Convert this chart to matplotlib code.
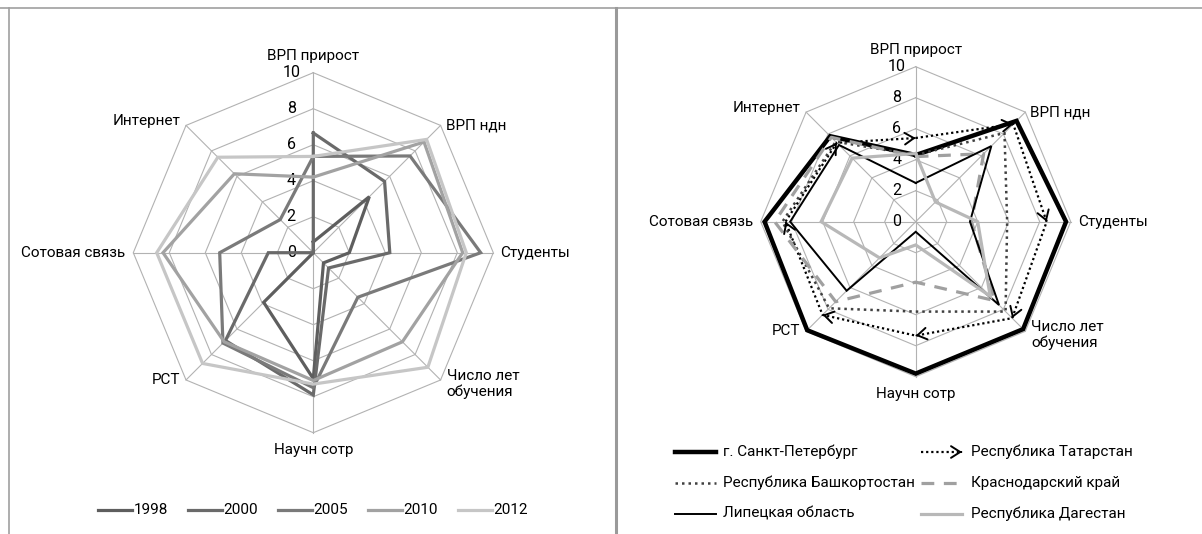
import matplotlib.pyplot as plt
import numpy as np

plt.rcParams['font.family'] = ['Roboto', 'DejaVu Sans']
plt.rcParams['font.size'] = 11

# axes of both radar charts, clockwise from the top
categories = ['ВРП прирост', 'ВРП ндн', 'Студенты', 'Число лет\nобучения',
              'Научн сотр', 'РСТ', 'Сотовая связь', 'Интернет']
scale_ticks = [0, 2, 4, 6, 8, 10]

# left chart: years
years = ['1998', '2000', '2005', '2010', '2012']
v1998 = [0.6, 4.4, 2.0, 0.8, 7.0, 3.9, 0.0, 0.0]
v2000 = [6.65, 5.6, 4.25, 1.2, 7.9, 6.9, 2.5, 0.0]
v2005 = [5.35, 7.6, 9.3, 3.5, 7.5, 7.1, 5.2, 2.6]
v2010 = [4.2, 8.7, 8.3, 7.0, 7.1, 7.0, 8.35, 6.2]
v2012 = [5.35, 8.9, 8.5, 9.0, 7.3, 8.7, 8.7, 7.5]

# right chart: regions
regions = ['г. Санкт-Петербург', 'Республика Татарстан', 'Республика Башкортостан',
           'Краснодарский край', 'Липецкая область', 'Республика Дагестан']
spb = [4.3, 9.2, 9.7, 9.8, 9.8, 9.9, 9.75, 7.8]
tatarstan = [5.4, 8.9, 8.45, 8.8, 7.35, 8.5, 8.4, 7.2]
bashkortostan = [4.3, 8.1, 5.9, 8.2, 5.8, 7.9, 8.6, 7.3]
krasnodar = [4.2, 6.2, 3.6, 7.2, 3.9, 7.3, 9.1, 7.7]
lipetsk = [2.5, 6.9, 3.5, 7.6, 0.65, 6.3, 8.1, 7.0]
dagestan = [4.4, 1.8, 4.0, 6.8, 1.5, 3.3, 6.1, 5.8]

W, H = 1202, 534
grid_c = '#b2b2b2'
angles = np.arange(len(categories)) * 2 * np.pi / len(categories)

fig = plt.figure(figsize=(W / 100, H / 100), dpi=100)

# overlay in pixel units for frame and legends
over = fig.add_axes([0, 0, 1, 1])
over.set_xlim(0, W)
over.set_ylim(H, 0)
over.axis('off')
over.plot([0, W], [7.5, 7.5], color='#a0a0a0', lw=1.2)
over.plot([9, 9], [7.5, H], color='#a0a0a0', lw=1.2)
over.plot([616, 616], [7.5, H], color='#9a9a9a', lw=2.2)


def closed(vals):
    v = np.append(vals, vals[0])
    a = np.append(angles, angles[0])
    return v * np.sin(a), v * np.cos(a)


def radar_axes(x0, x1, cx, cy, unit, tick_dx):
    ax = fig.add_axes([x0 / W, 0, (x1 - x0) / W, 1])
    ax.set_xlim((x0 - cx) / unit, (x1 - cx) / unit)
    ax.set_ylim((cy - H) / unit, cy / unit)
    ax.axis('off')
    for t in scale_ticks[1:]:
        gx, gy = closed([t] * len(categories))
        ax.plot(gx, gy, color=grid_c, lw=0.8, zorder=1)
    for a in angles:
        ax.plot([0, 10 * np.sin(a)], [0, 10 * np.cos(a)], color=grid_c, lw=0.8, zorder=1)
    for t in scale_ticks:
        ax.annotate(str(t), (0, t), xytext=(-tick_dx, 0), textcoords='offset pixels',
                    ha='center', va='center', fontsize=11.5, zorder=2)
    offs = [((0, 10), 'center', 'bottom'), ((5, 0), 'left', 'center'),
            ((7, 0), 'left', 'center'), ((6, -4), 'left', 'center'),
            ((0, -10), 'center', 'top'), ((-6, 0), 'right', 'center'),
            ((-8, 0), 'right', 'center'), ((-6, 4), 'right', 'center')]
    for name, a, (o, ha, va) in zip(categories, angles, offs):
        ax.annotate(name, (10 * np.sin(a), 10 * np.cos(a)), xytext=o,
                    textcoords='offset pixels', ha=ha, va=va, linespacing=1.15)
    return ax


# ---- left chart ----
axl = radar_axes(10, 612, 313.3, 252.7, 18.0, 22)
year_vals = [v1998, v2000, v2005, v2010, v2012]
year_colors = ['#5e5e5e', '#6a6a6a', '#7a7a7a', '#a2a2a2', '#c6c6c6']
for vals, col in zip(year_vals, year_colors):
    x, y = closed(vals)
    axl.plot(x, y, color=col, lw=2.3, solid_joinstyle='miter', zorder=3)

for i, (name, col) in enumerate(zip(years, year_colors)):
    lx = 97.5 + i * 90
    over.plot([lx, lx + 34], [510, 510], color=col, lw=2.3)
    over.text(lx + 36, 510, name, ha='left', va='center')

# ---- right chart ----
axr = radar_axes(620, W, 915.7, 221.7, 15.5, 19)
styles = [dict(color='black', lw=3.2),
          dict(color='black', lw=1.6, ls=(0, (1, 1.3))),
          dict(color='#404040', lw=1.8, ls=(0, (1, 1.6))),
          dict(color='#a0a0a0', lw=2.3, ls=(0, (4, 3))),
          dict(color='black', lw=1.4),
          dict(color='#b8b8b8', lw=2.3)]
region_vals = [spb, tatarstan, bashkortostan, krasnodar, lipetsk, dagestan]
for vals, st in zip(region_vals, styles):
    x, y = closed(vals)
    axr.plot(x, y, solid_joinstyle='miter', zorder=3, **st)

# arrow ends on every Tatarstan segment
tx, ty = closed(tatarstan)
head = dict(arrowstyle='->,head_length=0.55,head_width=0.35', color='black', lw=1.4,
            shrinkA=0, shrinkB=0, mutation_scale=12)
for i in range(len(tatarstan)):
    dx, dy = tx[i + 1] - tx[i], ty[i + 1] - ty[i]
    d = np.hypot(dx, dy)
    axr.annotate('', xy=(tx[i + 1], ty[i + 1]),
                 xytext=(tx[i + 1] - 0.05 * dx / d, ty[i + 1] - 0.05 * dy / d),
                 arrowprops=head, zorder=4)

rows = [452, 483, 514]
for i, (name, st) in enumerate(zip(regions, styles)):
    r, c = divmod(i, 2)
    hx = 675 if c == 0 else 921
    txt_x = 723 if c == 0 else 971
    yy = rows[r]
    if name == 'Республика Татарстан':
        over.plot([hx, hx + 37], [yy, yy], **st)
        over.annotate('', xy=(hx + 41, yy), xytext=(hx + 40, yy), arrowprops=head)
    else:
        over.plot([hx, hx + 41], [yy, yy], **st)
    over.text(txt_x, yy, name, ha='left', va='center')

fig.savefig('out.png', dpi=100)
